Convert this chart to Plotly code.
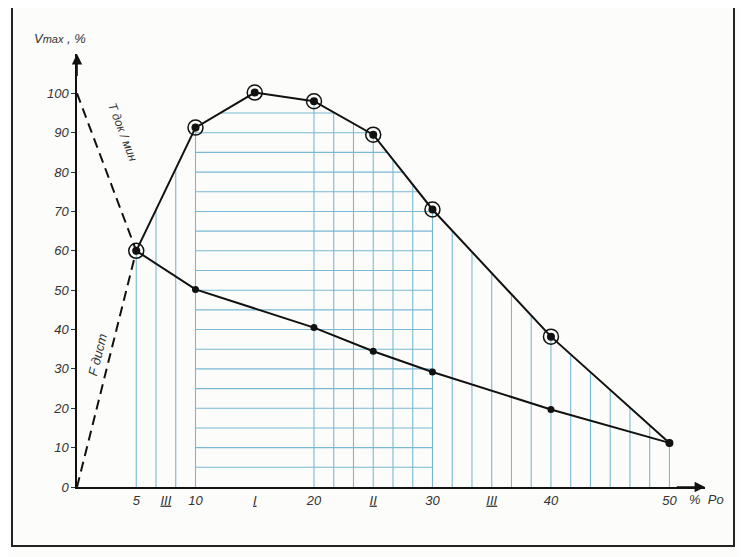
import numpy as np
import plotly.graph_objects as go

# ---- data ----
po_upper = [5, 10, 15, 20, 25, 30, 40, 50]
vmax_upper = [60, 91.3, 100.2, 98, 89.5, 70.5, 38.2, 11.2]
ringed_po = [5, 10, 15, 20, 25, 30, 40]
ringed_v = [60, 91.3, 100.2, 98, 89.5, 70.5, 38.2]
po_lower = [5, 10, 20, 25, 30, 40, 50]
vmax_lower = [60, 50.2, 40.5, 34.5, 29.2, 19.7, 11.2]
t_line_po = [0, 5]
t_line_v = [100, 60]
f_line_po = [0, 5]
f_line_v = [0, 60]
xtick_vals = [5, 7.5, 10, 15, 20, 25, 30, 35, 40, 50]
xtick_text = ["5", "<u>III</u>", "10", "<u>I</u>", "20", "<u>II</u>", "30", "<u>III</u>", "40", "50"]
ytick_vals = [0, 10, 20, 30, 40, 50, 60, 70, 80, 90, 100]

# hatch grid parameters
vgrid_step = 5 / 3
vgrid_ranges = [(5, 10), (20, 50)]
hgrid_levels = list(range(5, 100, 5))
hgrid_span = (10, 30)

BLUE = "rgb(122,184,211)"
FONT = "Liberation Sans"

def upper(x):
    return np.interp(x, po_upper, vmax_upper)

# vertical hatch lines
vx, vy = [], []
for a, b in vgrid_ranges:
    n = int(round((b - a) / vgrid_step))
    for k in range(n + 1):
        x = a + k * vgrid_step
        vx += [x, x, None]
        vy += [0, float(upper(x)), None]

# horizontal hatch lines
hx, hy = [], []
xs = np.linspace(hgrid_span[0], hgrid_span[1], 4001)
us = upper(xs)
for lev in hgrid_levels:
    m = us >= lev
    if m.any():
        hx += [float(xs[m].min()), float(xs[m].max()), None]
        hy += [lev, lev, None]

fig = go.Figure()
fig.add_trace(go.Scatter(x=vx, y=vy, mode="lines", line=dict(color=BLUE, width=1.1), hoverinfo="skip"))
fig.add_trace(go.Scatter(x=hx, y=hy, mode="lines", line=dict(color=BLUE, width=1.1), hoverinfo="skip"))

fig.add_trace(go.Scatter(x=t_line_po, y=t_line_v, mode="lines",
                         line=dict(color="#111", width=2, dash="10px,6px")))
fig.add_trace(go.Scatter(x=f_line_po, y=f_line_v, mode="lines",
                         line=dict(color="#111", width=2, dash="10px,6px")))

fig.add_trace(go.Scatter(x=po_lower, y=vmax_lower, mode="lines+markers",
                         line=dict(color="#111", width=2),
                         marker=dict(color="#111", size=7)))
fig.add_trace(go.Scatter(x=po_upper, y=vmax_upper, mode="lines+markers",
                         line=dict(color="#111", width=2),
                         marker=dict(color="#111", size=8)))
fig.add_trace(go.Scatter(x=ringed_po, y=ringed_v, mode="markers",
                         marker=dict(symbol="circle-open", color="#111", size=15,
                                     line=dict(width=1.5, color="#111"))))

OFF = 8  # page body margin
W, H = 748, 557
L, T = 77 - OFF, 54 - OFF
pw, ph = 628, 433
R = W - L - pw
B = H - T - ph

def px(xp):
    return (xp - OFF - L) / pw

def py(yp):
    return (T + ph - (yp - OFF)) / ph

# frame
fig.add_shape(type="rect", xref="paper", yref="paper",
              x0=px(12), x1=px(734), y0=py(546), y1=py(5),
              line=dict(color="#222", width=2), layer="below")

# axis arrows
fig.add_annotation(x=0, y=110, ax=0, ay=104, xref="x", yref="y", axref="x", ayref="y",
                   showarrow=True, arrowhead=2, arrowsize=1.3, arrowwidth=1.6, arrowcolor="#111", text="")
fig.add_annotation(x=53, y=0, ax=50.5, ay=0, xref="x", yref="y", axref="x", ayref="y",
                   showarrow=True, arrowhead=2, arrowsize=1.3, arrowwidth=1.6, arrowcolor="#111", text="")

italic = dict(family=FONT, size=13, color="#333", style="italic")
fig.add_annotation(x=px(60), y=py(38), xref="paper", yref="paper", showarrow=False,
                   xanchor="center", yanchor="middle",
                   text="V<span style='font-size:11px'>max</span> , %", font=italic)
fig.add_annotation(x=px(706), y=py(499), xref="paper", yref="paper", showarrow=False,
                   xanchor="center", yanchor="middle",
                   text="%  Po", font=italic)
fig.add_annotation(x=3.9, y=90, xref="x", yref="y", showarrow=False, textangle=69,
                   xanchor="center", yanchor="middle",
                   text="T док / мин", font=dict(family=FONT, size=12, color="#333", style="italic"))
fig.add_annotation(x=1.7, y=33.5, xref="x", yref="y", showarrow=False, textangle=-76,
                   xanchor="center", yanchor="middle",
                   text="F дист", font=dict(family=FONT, size=13, color="#333", style="italic"))

fig.update_layout(
    width=W, height=H,
    margin=dict(l=L, r=R, t=T, b=B),
    paper_bgcolor="#fcfcfa", plot_bgcolor="#fcfcfa",
    showlegend=False,
    xaxis=dict(range=[0, 53], showgrid=False, zeroline=False, showline=True,
               linecolor="#111", linewidth=2, tickvals=xtick_vals, ticktext=xtick_text,
               ticks="", tickfont=italic, ticklabelstandoff=0),
    yaxis=dict(range=[0, 110], showgrid=False, zeroline=False, showline=True,
               linecolor="#111", linewidth=1.5, tickvals=ytick_vals,
               ticks="outside", ticklen=4, tickcolor="#333", tickfont=italic),
)

fig.write_html("out.html")
